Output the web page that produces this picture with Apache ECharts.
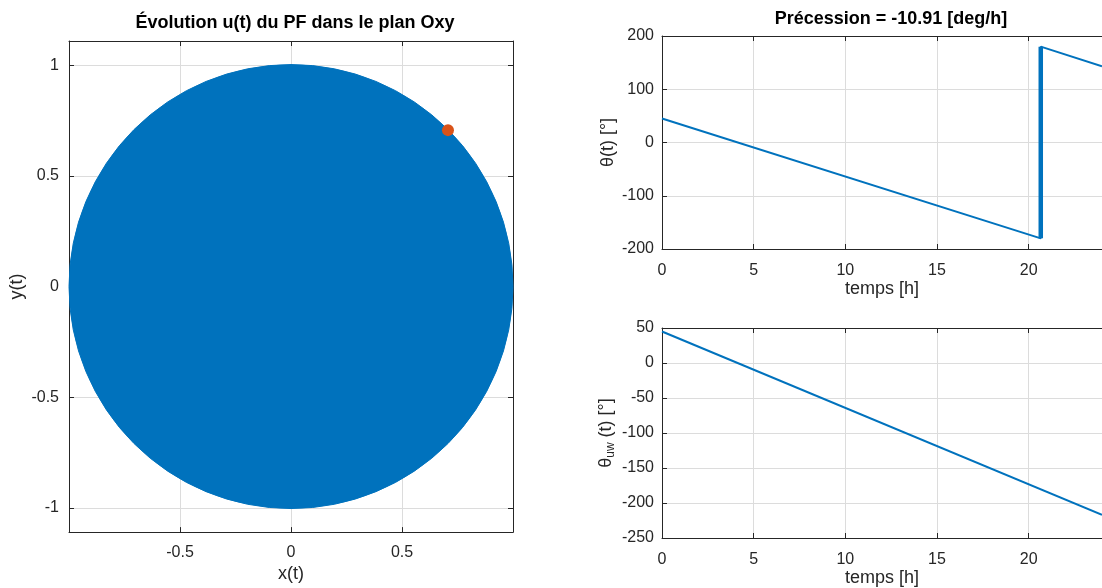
<!DOCTYPE html>
<html><head><meta charset="utf-8">
<script src="https://cdn.jsdelivr.net/npm/echarts@6/dist/echarts.min.js"></script>
<style>html,body{margin:0;padding:0;background:#fff}#c{width:1102px;height:588px}</style>
</head><body><div id="c"></div>
<script>
// ---- data ----
const circleCenterX = [0];
const circleCenterY = [0];
const circleRadius = [1];
const markerX = [0.7071];
const markerY = [0.7071];
const xyTickValues = [-1, -0.5, 0, 0.5, 1];
const thetaTime = [0, 20.66, 20.66, 24];
const thetaValue = [45, -180, 180, 143.2];
const jumpTime = [20.66, 20.66];
const jumpValue = [-180, 180];
const thetaUwTime = [0, 24];
const thetaUwValue = [45, -216.8];
const titles = ['Évolution u(t) du PF dans le plan Oxy', 'Précession = -10.91 [deg/h]'];

// ---- style ----
const FONT = '"Liberation Sans", Arial, Helvetica, sans-serif';
const TXT = '#262626';
const AX = '#262626';
const GRID = '#dcdcdc';
const BLUE = '#0072BD';
const ORANGE = '#D95319';
const TICK_FS = 16;
const LAB_FS = 18;

function baseAxis(extra) {
  return Object.assign({
    type: 'value',
    axisLine: { show: true, onZero: false, lineStyle: { color: AX, width: 1 } },
    axisTick: { show: true, inside: true, length: 5, lineStyle: { color: AX } },
    axisLabel: { color: TXT, fontSize: TICK_FS, fontFamily: FONT },
    splitLine: { show: true, lineStyle: { color: GRID, width: 1 } },
    nameTextStyle: { color: TXT, fontSize: LAB_FS, fontFamily: FONT },
    nameLocation: 'middle'
  }, extra);
}
function mirror(extra) {
  return Object.assign(baseAxis({}), {
    axisLabel: { show: false },
    splitLine: { show: false }
  }, extra);
}

const pairs = (a, b) => a.map((v, i) => [v, b[i]]);

const option = {
  animation: false,
  backgroundColor: '#ffffff',
  title: [
    { text: titles[0], left: 290, top: 9, textAlign: 'center',
      textStyle: { fontFamily: FONT, fontSize: 18, fontWeight: 'bold', color: '#000' } },
    { text: titles[1], left: 886, top: 5, textAlign: 'center',
      textStyle: { fontFamily: FONT, fontSize: 18, fontWeight: 'bold', color: '#000' } }
  ],
  grid: [
    { left: 69, top: 41, width: 444, height: 494, containLabel: false },
    { left: 662, top: 36, width: 447, height: 213, containLabel: false },
    { left: 662, top: 328, width: 447, height: 213, containLabel: false }
  ],
  xAxis: [
    baseAxis({ gridIndex: 0, min: -1, max: 1, interval: 0.5, name: 'x(t)', nameGap: 32,
      axisLabel: { color: TXT, fontSize: TICK_FS, fontFamily: FONT, margin: 12,
        formatter: v => (Math.abs(v) === 1 ? '' : String(v)) } }),
    mirror({ gridIndex: 0, min: -1, max: 1, interval: 0.5, position: 'top' }),
    baseAxis({ gridIndex: 1, min: 0, max: 24, interval: 5, name: 'temps [h]', nameGap: 31,
      axisLabel: { color: TXT, fontSize: TICK_FS, fontFamily: FONT, margin: 14, showMaxLabel: false } }),
    mirror({ gridIndex: 1, min: 0, max: 24, interval: 5, position: 'top' }),
    baseAxis({ gridIndex: 2, min: 0, max: 24, interval: 5, name: 'temps [h]', nameGap: 31,
      axisLabel: { color: TXT, fontSize: TICK_FS, fontFamily: FONT, margin: 14, showMaxLabel: false } }),
    mirror({ gridIndex: 2, min: 0, max: 24, interval: 5, position: 'top' })
  ],
  yAxis: [
    baseAxis({ gridIndex: 0, min: -1.11, max: 1.11, name: 'y(t)', nameGap: 43, nameRotate: 90,
      axisTick: { show: true, inside: true, length: 5, lineStyle: { color: AX }, customValues: xyTickValues },
      axisLabel: { color: TXT, fontSize: TICK_FS, fontFamily: FONT, margin: 10, customValues: xyTickValues } }),
    mirror({ gridIndex: 0, min: -1.11, max: 1.11, position: 'right',
      axisTick: { show: true, inside: true, length: 5, lineStyle: { color: AX }, customValues: xyTickValues } }),
    baseAxis({ gridIndex: 1, min: -200, max: 200, interval: 100, name: 'θ(t) [°]', nameGap: 45, nameRotate: 90,
      axisLabel: { color: TXT, fontSize: TICK_FS, fontFamily: FONT, margin: 8 } }),
    baseAxis({ gridIndex: 2, min: -250, max: 50, interval: 50, nameGap: 45, nameRotate: 90,
      name: '{t|θ}{s|uw}{t| (t) [°]}',
      nameTextStyle: { color: TXT, fontSize: LAB_FS, fontFamily: FONT,
        rich: {
          t: { fontSize: LAB_FS, fontFamily: FONT, color: TXT, lineHeight: 22, verticalAlign: 'middle' },
          s: { fontSize: 12, fontFamily: FONT, color: TXT, lineHeight: 22, verticalAlign: 'bottom' }
        } },
      axisLabel: { color: TXT, fontSize: TICK_FS, fontFamily: FONT, margin: 8 } })
  ],
  series: [
    {
      type: 'custom', xAxisIndex: 0, yAxisIndex: 0, clip: false,
      data: circleCenterX.map((x, i) => [x, circleCenterY[i], circleRadius[i]]),
      renderItem: (params, api) => {
        const c = api.coord([api.value(0), api.value(1)]);
        const s = api.size([api.value(2), api.value(2)]);
        return { type: 'circle', shape: { cx: c[0], cy: c[1], r: s[0] },
          style: { fill: BLUE, stroke: BLUE, lineWidth: 1 } };
      },
      silent: true, z: 2
    },
    {
      type: 'scatter', xAxisIndex: 0, yAxisIndex: 0,
      data: pairs(markerX, markerY), symbol: 'circle', symbolSize: 12,
      itemStyle: { color: ORANGE, opacity: 1 }, z: 5, silent: true
    },
    {
      type: 'line', xAxisIndex: 2, yAxisIndex: 2, data: pairs(thetaTime, thetaValue),
      showSymbol: false, lineStyle: { color: BLUE, width: 2 }, z: 3, silent: true
    },
    {
      type: 'line', xAxisIndex: 2, yAxisIndex: 2, data: pairs(jumpTime, jumpValue),
      showSymbol: false, lineStyle: { color: BLUE, width: 4.5 }, z: 3, silent: true
    },
    {
      type: 'line', xAxisIndex: 4, yAxisIndex: 3, data: pairs(thetaUwTime, thetaUwValue),
      showSymbol: false, lineStyle: { color: BLUE, width: 2 }, z: 3, silent: true
    }
  ]
};

const chart = echarts.init(document.getElementById('c'), null, { renderer: 'canvas' });
chart.setOption(option);
</script>
</body></html>
